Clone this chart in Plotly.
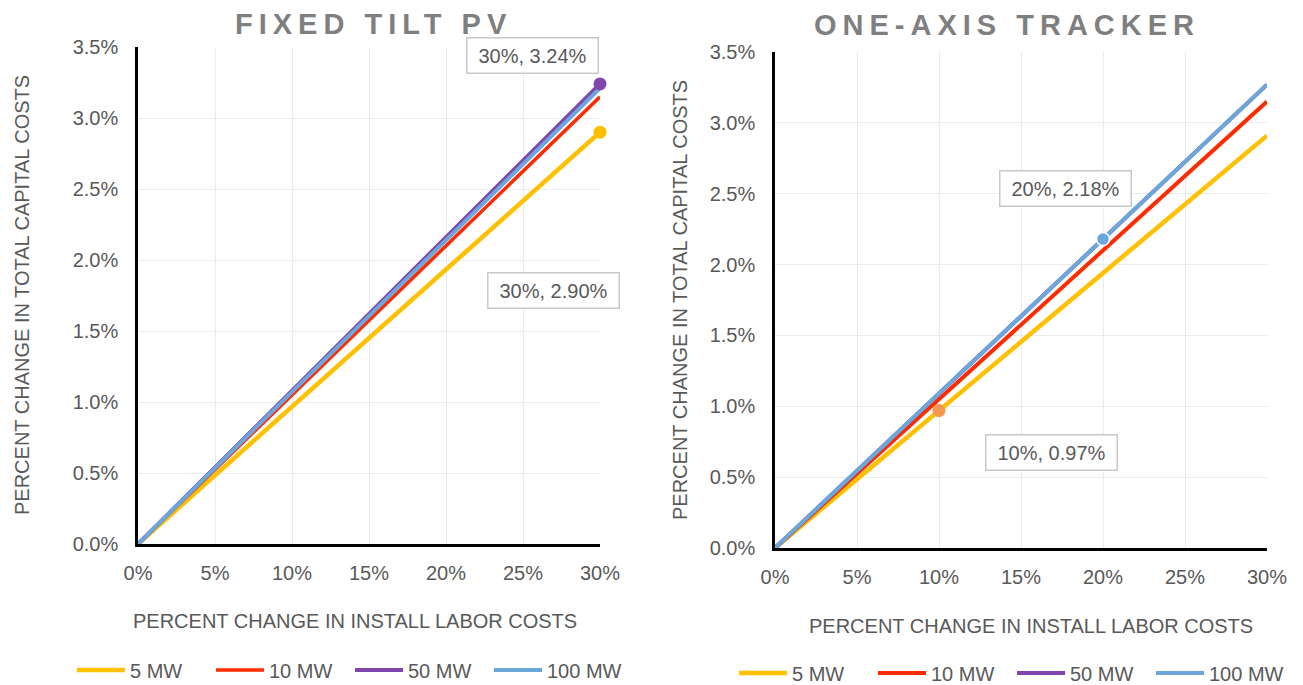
import plotly.graph_objects as go

# ---------------- data ----------------
labor_change = [0, 10, 20, 30]          # % change in install labor costs
series_names = ["5 MW", "10 MW", "50 MW", "100 MW"]

fixed_5mw = [0.0, 0.97, 1.93, 2.90]
fixed_10mw = [0.0, 1.05, 2.10, 3.15]
fixed_50mw = [0.0, 1.08, 2.16, 3.24]
fixed_100mw = [0.0, 1.07, 2.14, 3.21]

track_5mw = [0.0, 0.97, 1.94, 2.91]
track_10mw = [0.0, 1.05, 2.10, 3.15]
track_50mw = [0.0, 1.09, 2.18, 3.27]
track_100mw = [0.0, 1.09, 2.18, 3.27]

x_ticks = [0, 5, 10, 15, 20, 25, 30]
y_ticks = [0.0, 0.5, 1.0, 1.5, 2.0, 2.5, 3.0, 3.5]
x_ticktext = [f"{v}%" for v in x_ticks]
y_ticktext = [f"{v:.1f}%" for v in y_ticks]

# ---------------- style ----------------
colors = ["#FFC000", "#FF2A00", "#7F46AE", "#6CA7DB"]
widths = [4.5, 3.5, 4, 4]
FONT = "Liberation Sans, Arial, sans-serif"
TXT = "#595959"
OFF = 8                      # page body margin
W, H = 1303 - OFF, 685 - OFF


def px(x):
    return (x - OFF) / W


def py(y):
    return 1 - (y - OFF) / H


fig = go.Figure()

fixed = [fixed_5mw, fixed_10mw, fixed_50mw, fixed_100mw]
track = [track_5mw, track_10mw, track_50mw, track_100mw]

for i, name in enumerate(series_names):
    fig.add_trace(go.Scatter(x=labor_change, y=fixed[i], mode="lines", name=name,
                             line=dict(color=colors[i], width=widths[i]),
                             xaxis="x", yaxis="y", legend="legend"))
for i, name in enumerate(series_names):
    fig.add_trace(go.Scatter(x=labor_change, y=track[i], mode="lines", name=name,
                             line=dict(color=colors[i], width=4.5 if i == 0 else 4),
                             xaxis="x2", yaxis="y2", legend="legend2"))


# highlighted points
def point(xv, yv, color, xa, ya, outline=None):
    fig.add_trace(go.Scatter(x=[xv], y=[yv], mode="markers", showlegend=False,
                             cliponaxis=False, hoverinfo="x+y",
                             marker=dict(size=13, color=color,
                                         line=dict(color=outline or color,
                                                   width=1.5 if outline else 0)),
                             xaxis=xa, yaxis=ya))


point(labor_change[3], fixed_50mw[3], colors[2], "x", "y")
point(labor_change[3], fixed_5mw[3], colors[0], "x", "y")
point(labor_change[2], track_100mw[2], colors[3], "x2", "y2", outline="white")
point(labor_change[1], track_5mw[1], "#F2994E", "x2", "y2")


def label(xv, yv, ax, ay, xr, yr):
    fig.add_annotation(x=ax, y=ay, xref=xr, yref=yr, showarrow=False,
                       xanchor="center", yanchor="middle",
                       text=f"{xv}%, {yv:.2f}%",
                       font=dict(family=FONT, size=20, color=TXT),
                       bgcolor="white", bordercolor="#C8C8C8", borderwidth=1.5,
                       borderpad=5, width=120, height=24)


label(labor_change[3], fixed_50mw[3], 25.6, 3.437, "x", "y")
label(labor_change[3], fixed_5mw[3], 26.95, 1.782, "x", "y")
label(labor_change[2], track_100mw[2], 17.74, 2.54, "x2", "y2")
label(labor_change[1], track_5mw[1], 16.83, 0.677, "x2", "y2")


# axes
def xaxis(domain, anchor):
    return dict(domain=domain, anchor=anchor, range=[0, 30], tickmode="array",
                tickvals=x_ticks, ticktext=x_ticktext,
                showgrid=True, gridcolor="#EBEBEB", gridwidth=1,
                zeroline=False, showline=True, linecolor="black", linewidth=3,
                ticks="", ticklabelstandoff=9, automargin=False,
                tickfont=dict(family=FONT, size=20, color=TXT), fixedrange=True)


def yaxis(domain, anchor):
    return dict(domain=domain, anchor=anchor, range=[0, 3.5], tickmode="array",
                tickvals=y_ticks, ticktext=y_ticktext,
                showgrid=True, gridcolor="#EBEBEB",
                gridwidth=1, zeroline=False, showline=True, linecolor="black",
                linewidth=2.5, ticks="", ticklabelstandoff=13, automargin=False,
                tickfont=dict(family=FONT, size=20, color=TXT), fixedrange=True)


legend_common = dict(orientation="h", xanchor="left", yanchor="middle",
                     itemwidth=48, entrywidth=76, entrywidthmode="pixels",
                     font=dict(family=FONT, size=20, color=TXT),
                     bgcolor="rgba(0,0,0,0)")

fig.update_layout(
    width=W, height=H, margin=dict(l=0, r=0, t=0, b=0, pad=0, autoexpand=False),
    paper_bgcolor="white", plot_bgcolor="white",
    xaxis=xaxis([px(138), px(600)], "y"),
    yaxis=yaxis([py(544), py(47)], "x"),
    xaxis2=xaxis([px(775), px(1267)], "y2"),
    yaxis2=yaxis([py(548), py(52)], "x2"),
    legend=dict(x=px(72), y=py(670), **legend_common),
    legend2=dict(x=px(734), y=py(673), **legend_common),
    showlegend=True,
)


def title(text, xc, yc):
    fig.add_annotation(x=px(xc), y=py(yc), xref="paper", yref="paper", showarrow=False,
                       xanchor="center", yanchor="middle", height=28, valign="middle",
                       text=f'<span style="letter-spacing:6px">{text}</span>',
                       font=dict(family=FONT, size=29, color="#7F7F7F", weight="bold"))


title("FIXED TILT PV", 373, 24)
title("ONE-AXIS TRACKER", 1007, 25)


def axis_title(text, xc, yc, angle=0):
    fig.add_annotation(x=px(xc), y=py(yc), xref="paper", yref="paper", showarrow=False,
                       xanchor="center", yanchor="middle",
                       text=text, textangle=angle,
                       font=dict(family=FONT, size=20, color=TXT))


axis_title("PERCENT CHANGE IN TOTAL CAPITAL COSTS", 22, 295, -90)
axis_title("PERCENT CHANGE IN TOTAL CAPITAL COSTS", 680, 300, -90)
axis_title("PERCENT CHANGE IN INSTALL LABOR COSTS", 355, 621)
axis_title("PERCENT CHANGE IN INSTALL LABOR COSTS", 1031, 626)

fig.write_html("out.html")
